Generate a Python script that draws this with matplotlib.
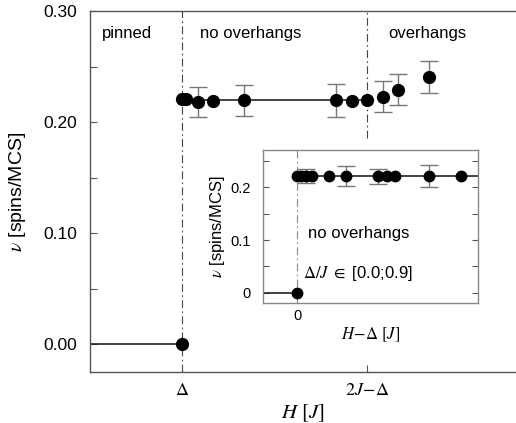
import numpy as np
import matplotlib
matplotlib.use("Agg")
import matplotlib.pyplot as plt
from matplotlib.ticker import MultipleLocator

plt.rcParams['font.family'] = ['Liberation Sans', 'DejaVu Sans']
plt.rcParams['mathtext.fontset'] = 'stix'

# ---------------- data ----------------
J = 1.0
DELTA = 0.5
V_SAT = 0.22

main_H = np.array([0.50, 0.50, 0.52, 0.586, 0.668, 0.835, 1.332, 1.419, 1.50, 1.586, 1.668, 1.835])
main_v = np.array([0.0, 0.221, 0.2205, 0.218, 0.219, 0.2195, 0.2195, 0.219, 0.2195, 0.223, 0.229, 0.241])
main_err = np.array([0.0, 0.0, 0.0, 0.0137, 0.0, 0.014, 0.0145, 0.0, 0.0, 0.0143, 0.014, 0.0144])

ins_x = np.array([0.0, 0.0, 0.04, 0.09, 0.15, 0.32, 0.49, 0.81, 0.90, 0.98, 1.32, 1.64])
ins_v = np.array([0.0, 0.221, 0.2205, 0.2205, 0.221, 0.221, 0.221, 0.2205, 0.2205, 0.221, 0.221, 0.221])
ins_err = np.array([0.0, 0.0, 0.0, 0.013, 0.0, 0.0, 0.019, 0.014, 0.0, 0.0, 0.021, 0.0])

main_xticks = [DELTA, 2 * J - DELTA]
main_xticklabels = [r'$\Delta$', r'$2J\!-\!\Delta$']
region_labels = ['pinned', 'no overhangs', 'overhangs']

# ---------------- figure ----------------
fig = plt.figure(figsize=(5.16, 4.23), dpi=100)
ax = fig.add_axes([90/516, 51/423, 426/516, 361/423])

spine_col = '#555555'
line_col = '#222222'
err_col = '#777777'

ax.set_xlim(0.0, 2.305)
ax.set_ylim(-0.025, 0.30)

# guide lines
ax.axvline(DELTA, color='#444444', lw=0.8, ls=(0, (7, 3, 1.5, 3)), zorder=1)
ax.axvline(2 * J - DELTA, ymin=0.648, color='#444444', lw=0.8, ls=(0, (7, 3, 1.5, 3)), zorder=1)
ax.plot([ax.get_xlim()[0], DELTA], [0, 0], color=line_col, lw=1.2, zorder=2)
ax.plot([DELTA, 2 * J - DELTA], [V_SAT, V_SAT], color=line_col, lw=1.2, zorder=2)

m = main_err > 0
ax.errorbar(main_H[m], main_v[m], yerr=main_err[m], fmt='none', ecolor=err_col,
            elinewidth=1.0, capsize=6.8, capthick=1.0, zorder=3)
ax.plot(main_H, main_v, 'o', color='black', ms=8.5, zorder=4)

ax.set_yticks([0.0, 0.1, 0.2, 0.3])
ax.set_yticklabels(['0.00', '0.10', '0.20', '0.30'])
ax.yaxis.set_minor_locator(MultipleLocator(0.05))
ax.set_xticks(main_xticks)
ax.set_xticklabels(main_xticklabels, fontsize=13)
ax.tick_params(axis='both', which='both', direction='in', colors=spine_col,
               labelcolor='black', width=0.8)
ax.tick_params(axis='y', which='major', length=5, labelsize=12.5, pad=9)
ax.tick_params(axis='y', which='minor', length=5)
ax.tick_params(axis='x', which='major', length=5, pad=7)
for s in ['left', 'bottom', 'top']:
    ax.spines[s].set_color(spine_col)
    ax.spines[s].set_linewidth(1.0)
ax.spines['right'].set_visible(False)

ax.set_xlabel(r'$H\ [J]$', fontsize=15, labelpad=3)
ax.set_ylabel(r'$\nu$ [spins/MCS]', fontsize=14)
ax.yaxis.set_label_coords(-0.145, 0.5)

ax.text(0.028, 0.939, region_labels[0], transform=ax.transAxes, fontsize=12, va='center', ha='left')
ax.text(0.258, 0.939, region_labels[1], transform=ax.transAxes, fontsize=12, va='center', ha='left')
ax.text(0.6995, 0.939, region_labels[2], transform=ax.transAxes, fontsize=12, va='center', ha='left')

# ---------------- inset ----------------
ins = fig.add_axes([263/516, 120/423, 215/516, 153/423])
ins.set_xlim(-0.34, 1.81)
ins.set_ylim(-0.019, 0.27)
ins.axvline(0.0, color='#888888', lw=0.8, ls=(0, (7, 3, 1.5, 3)), zorder=1)
ins.plot([ins.get_xlim()[0], 0.0], [0, 0], color=line_col, lw=1.2, zorder=2)
ins.plot([0.0, ins.get_xlim()[1]], [V_SAT, V_SAT], color=line_col, lw=1.2, zorder=2)
mi = ins_err > 0
ins.errorbar(ins_x[mi], ins_v[mi], yerr=ins_err[mi], fmt='none', ecolor=err_col,
             elinewidth=1.0, capsize=6.8, capthick=1.0, zorder=3)
ins.plot(ins_x, ins_v, 'o', color='black', ms=7.5, zorder=4)

ins.set_yticks([0.0, 0.1, 0.2])
ins.set_yticklabels(['0', '0.1', '0.2'])
ins.yaxis.set_minor_locator(MultipleLocator(0.05))
ins.set_xticks([0.0])
ins.set_xticklabels(['0'])
ins.tick_params(axis='both', which='both', direction='in', colors=spine_col,
                labelcolor='black', width=0.8, labelsize=10.5)
ins.tick_params(axis='y', which='both', right=True, length=4, pad=9)
ins.tick_params(axis='x', which='both', length=0, pad=4)
for s in ins.spines.values():
    s.set_color('#888888')
    s.set_linewidth(1.0)
ins.set_xlabel(r'$H\!-\!\Delta\ [J]$', fontsize=12, labelpad=2)
ins.set_ylabel(r'$\nu$ [spins/MCS]', fontsize=12)
ins.yaxis.set_label_coords(-0.168, 0.5)

ins.text(0.209, 0.451, 'no overhangs', transform=ins.transAxes, fontsize=12, va='center', ha='left')
ins.text(0.186, 0.19, r'$\Delta/J\ \in$ [0.0;0.9]', transform=ins.transAxes, fontsize=12, va='center', ha='left')

fig.savefig('out.png', dpi=100)
